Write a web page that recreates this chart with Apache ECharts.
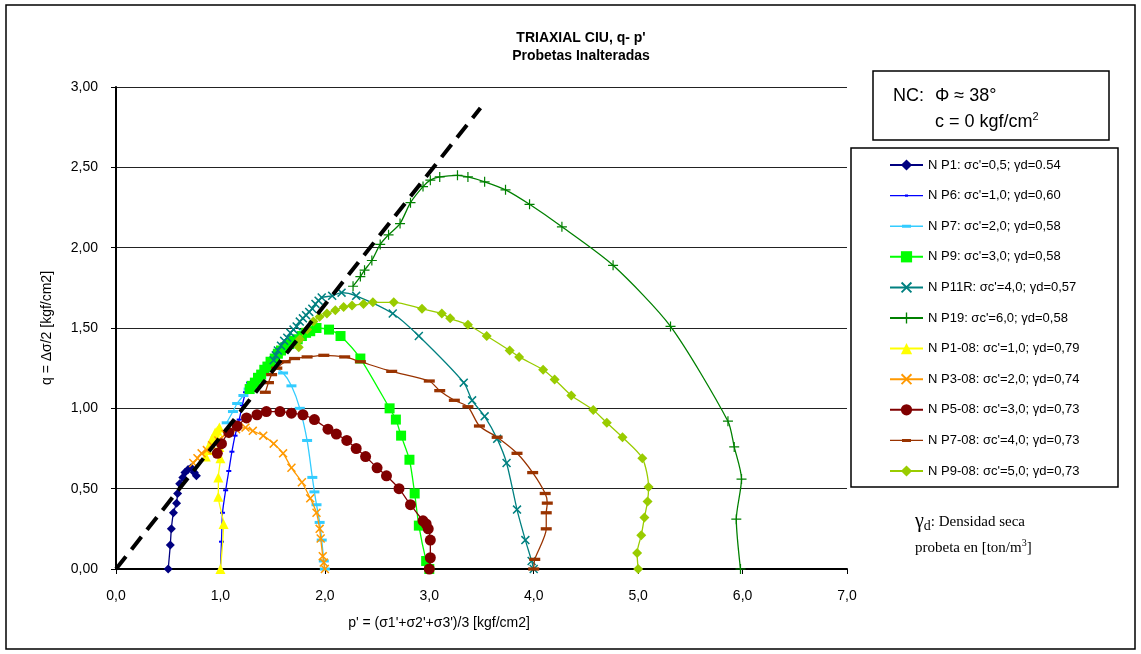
<!DOCTYPE html>
<html>
<head>
<meta charset="utf-8">
<script src="https://cdn.jsdelivr.net/npm/echarts@6/dist/echarts.min.js"></script>
<style>
  html, body { margin: 0; padding: 0; background: #fff; }
  #chart { width: 1141px; height: 654px; }
</style>
</head>
<body>
<div id="chart"></div>
<script>
// Stress paths q - p' (CIU triaxial), points as [p', q] in kgf/cm2
const np1 = [[0.50,0],[0.52,0.15],[0.53,0.25],[0.55,0.35],[0.58,0.41],[0.59,0.47],[0.61,0.53],[0.64,0.57],[0.66,0.60],[0.69,0.62],[0.72,0.63],[0.75,0.60],[0.77,0.58]];
const np6 = [[1.00,0],[1.01,0.17],[1.02,0.35],[1.05,0.49],[1.08,0.61],[1.11,0.73],[1.14,0.83],[1.18,0.93],[1.21,1.02],[1.24,1.10],[1.27,1.16]];
const np7 = [[2.00,0],[1.99,0.05],[1.97,0.18],[1.95,0.29],[1.92,0.40],[1.90,0.48],[1.88,0.57],[1.83,0.80],[1.76,1.00],[1.68,1.14],[1.60,1.22],[1.52,1.25],[1.42,1.23],[1.33,1.17],[1.27,1.12],[1.22,1.08],[1.16,1.03],[1.12,0.98],[1.06,0.91]];
const np9 = [[3.00,0],[2.97,0.05],[2.90,0.27],[2.86,0.47],[2.81,0.68],[2.73,0.83],[2.68,0.93],[2.62,1.00],[2.34,1.31],[2.15,1.45],[2.04,1.49],[1.92,1.50],[1.86,1.48],[1.82,1.47],[1.78,1.45],[1.74,1.43],[1.70,1.42],[1.66,1.40],[1.62,1.38],[1.58,1.36],[1.55,1.34],[1.52,1.31],[1.48,1.29],[1.45,1.26],[1.42,1.24],[1.39,1.21],[1.36,1.19],[1.33,1.16],[1.30,1.14],[1.28,1.12]];
const np11r = [[4.00,0],[3.98,0.05],[3.92,0.18],[3.84,0.37],[3.74,0.66],[3.65,0.81],[3.53,0.95],[3.41,1.05],[3.33,1.16],[2.90,1.45],[2.65,1.59],[2.30,1.70],[2.16,1.72],[2.07,1.70],[1.97,1.69],[1.94,1.67],[1.91,1.65],[1.88,1.62],[1.85,1.60],[1.82,1.58],[1.79,1.56],[1.76,1.54],[1.73,1.51],[1.70,1.49],[1.67,1.47],[1.64,1.44],[1.61,1.42],[1.58,1.39],[1.55,1.36],[1.53,1.33],[1.51,1.30]];
const np19 = [[5.98,0],[5.94,0.31],[5.99,0.56],[5.92,0.76],[5.86,0.92],[5.31,1.51],[4.76,1.89],[4.27,2.13],[3.96,2.27],[3.73,2.36],[3.53,2.41],[3.37,2.44],[3.27,2.45],[3.10,2.44],[3.01,2.42],[2.94,2.38],[2.82,2.28],[2.72,2.15],[2.61,2.08],[2.53,2.02],[2.45,1.92],[2.38,1.86],[2.34,1.82],[2.27,1.76]];
const np1_08 = [[1.00,0],[1.03,0.28],[0.98,0.45],[0.98,0.57],[1.00,0.69],[0.99,0.76],[0.97,0.80],[0.95,0.83],[0.97,0.86],[0.99,0.88],[0.95,0.85],[0.92,0.81],[0.90,0.78],[0.88,0.74],[0.86,0.70]];
const np3_08 = [[2.00,0],[1.99,0.04],[1.98,0.08],[1.96,0.19],[1.95,0.25],[1.92,0.35],[1.86,0.44],[1.78,0.54],[1.68,0.63],[1.60,0.72],[1.51,0.78],[1.41,0.83],[1.31,0.86],[1.24,0.88],[1.15,0.87],[1.05,0.84],[0.98,0.80],[0.92,0.77],[0.87,0.74],[0.82,0.72],[0.78,0.69],[0.74,0.66]];
const np5_08 = [[3.00,0],[3.01,0.07],[3.01,0.18],[2.99,0.25],[2.97,0.28],[2.94,0.30],[2.82,0.40],[2.71,0.50],[2.59,0.58],[2.50,0.63],[2.39,0.70],[2.30,0.75],[2.21,0.80],[2.11,0.84],[2.03,0.87],[1.90,0.93],[1.79,0.96],[1.68,0.97],[1.57,0.98],[1.44,0.98],[1.35,0.96],[1.25,0.94],[1.16,0.89],[1.08,0.85],[1.01,0.78],[0.97,0.72]];
const np7_08 = [[4.00,0],[4.01,0.06],[4.12,0.25],[4.12,0.35],[4.13,0.41],[4.11,0.47],[3.99,0.60],[3.84,0.72],[3.65,0.82],[3.48,0.89],[3.37,1.01],[3.24,1.05],[3.10,1.11],[3.00,1.17],[2.64,1.23],[2.34,1.29],[2.19,1.32],[1.99,1.33],[1.83,1.32],[1.71,1.31],[1.62,1.29],[1.54,1.25],[1.49,1.21],[1.46,1.16],[1.43,1.10]];
const np9_08 = [[5.00,0],[4.99,0.10],[5.03,0.21],[5.06,0.32],[5.09,0.42],[5.10,0.51],[5.04,0.69],[4.85,0.82],[4.70,0.91],[4.57,0.99],[4.36,1.08],[4.20,1.18],[4.09,1.24],[3.86,1.32],[3.77,1.36],[3.55,1.45],[3.37,1.52],[3.20,1.56],[3.12,1.59],[2.93,1.62],[2.66,1.66],[2.46,1.66],[2.37,1.65],[2.26,1.64],[2.18,1.63],[2.10,1.61],[2.02,1.59],[1.95,1.57],[1.89,1.54],[1.83,1.49],[1.76,1.43],[1.75,1.38]];

// NC failure envelope (c = 0)
const envelope = [[0,0],[3.49,2.87]];

const seriesNames = [
  "N P1: σc'=0,5; γd=0.54",
  "N P6: σc'=1,0; γd=0,60",
  "N P7: σc'=2,0; γd=0,58",
  "N P9: σc'=3,0; γd=0,58",
  "N P11R: σc'=4,0; γd=0,57",
  "N P19: σc'=6,0; γd=0,58",
  "N P1-08: σc'=1,0; γd=0,79",
  "N P3-08: σc'=2,0; γd=0,74",
  "N P5-08: σc'=3,0; γd=0,73",
  "N P7-08: σc'=4,0; γd=0,73",
  "N P9-08: σc'=5,0; γd=0,73"
];
const seriesData = [np1, np6, np7, np9, np11r, np19, np1_08, np3_08, np5_08, np7_08, np9_08];

// marker shapes
const X_PATH = 'path://M0,1.2L1.2,0L5,3.8L8.8,0L10,1.2L6.2,5L10,8.8L8.8,10L5,6.2L1.2,10L0,8.8L3.8,5Z';
const PLUS_PATH = 'path://M4.4,0H5.6V4.4H10V5.6H5.6V10H4.4V5.6H0V4.4H4.4Z';
const DASH_PATH = 'path://M0,0H10V3H0Z';
const DOT_PATH = 'path://M0,0H10V4H0Z';

// legend icons (33 x 14 box): line through a dash marker
const LEGEND_DASH = 'path://M0,0L0.01,0L0,0.01ZM33,14L32.99,14L33,13.99ZM0,6.3H33V7.7H0ZM12,5.5H21V8.5H12Z';
const LEGEND_DOT = 'path://M0,0L0.01,0L0,0.01ZM33,14L32.99,14L33,13.99ZM0,6.4H33V7.6H0ZM15,5.8H18V8.2H15Z';

const styles = [
  { color: '#000080', symbol: 'diamond', size: 9 },
  { color: '#0000FF', symbol: DOT_PATH, size: 5, legendIcon: LEGEND_DOT },
  { color: '#33CCFF', symbol: DASH_PATH, size: 10, legendIcon: LEGEND_DASH },
  { color: '#00FF00', symbol: 'rect', size: 10 },
  { color: '#008080', symbol: X_PATH, size: 9 },
  { color: '#008000', symbol: PLUS_PATH, size: 10 },
  { color: '#FFFF00', symbol: 'triangle', size: 10 },
  { color: '#FF9900', symbol: X_PATH, size: 9 },
  { color: '#800000', symbol: 'circle', size: 11 },
  { color: '#993300', symbol: DASH_PATH, size: 11, legendIcon: LEGEND_DASH },
  { color: '#99CC00', symbol: 'diamond', size: 10 }
];

const FONT = '"Liberation Sans", Arial, sans-serif';
const SERIF = '"Liberation Serif", "Times New Roman", serif';
const fmt = (v, d) => v.toFixed(d).replace('.', ',');

const series = seriesData.map((d, i) => ({
  name: seriesNames[i],
  type: 'line',
  data: d,
  smooth: 0.25,
  symbol: styles[i].symbol,
  symbolSize: styles[i].size,
  symbolKeepAspect: true,
  showSymbol: true,
  color: styles[i].color,
  lineStyle: { color: styles[i].color, width: 1.3 },
  itemStyle: { color: styles[i].color },
  z: 2 + i
}));

series.push({
  name: 'envelope',
  type: 'line',
  data: envelope,
  symbol: 'none',
  lineStyle: { color: '#000', width: 4, type: [16, 9] },
  z: 20
});

const legendData = seriesNames.map((n, i) => styles[i].legendIcon ? { name: n, icon: styles[i].legendIcon } : { name: n });

const chart = echarts.init(document.getElementById('chart'), null, { renderer: 'canvas' });
chart.setOption({
  animation: false,
  backgroundColor: '#fff',
  grid: { left: 116, right: 294, top: 87, bottom: 85, containLabel: false },
  xAxis: {
    type: 'value', min: 0, max: 7, interval: 1,
    axisLine: { show: true, onZero: false, lineStyle: { color: '#000', width: 2 } },
    axisTick: { show: true, length: 5, lineStyle: { color: '#000', width: 1 } },
    axisLabel: { margin: 20, fontSize: 14, color: '#000', fontFamily: FONT, formatter: v => fmt(v, 1) },
    splitLine: { show: false }
  },
  yAxis: {
    type: 'value', min: 0, max: 3, interval: 0.5,
    axisLine: { show: true, onZero: false, lineStyle: { color: '#000', width: 2 } },
    axisTick: { show: true, length: 5, lineStyle: { color: '#000', width: 1 } },
    axisLabel: { margin: 18, fontSize: 14, color: '#000', fontFamily: FONT, formatter: v => fmt(v, 2) },
    splitLine: { show: true, lineStyle: { color: '#222', width: 1.2 } }
  },
  legend: {
    orient: 'vertical',
    left: 889, top: 158,
    padding: 0,
    itemWidth: 33, itemHeight: 14, itemGap: 16.6,
    data: legendData,
    textStyle: { fontSize: 13, color: '#000', fontFamily: FONT, lineHeight: 14 },
    selectedMode: false
  },
  series: series,
  graphic: [
    { type: 'rect', shape: { x: 6, y: 5, width: 1129, height: 644 }, style: { fill: 'none', stroke: '#000', lineWidth: 1.5 }, z: 0, silent: true },
    { type: 'rect', shape: { x: 873, y: 71, width: 236, height: 69 }, style: { fill: '#fff', stroke: '#000', lineWidth: 1.5 }, z: 30 },
    { type: 'rect', shape: { x: 851, y: 148, width: 267, height: 339 }, style: { fill: 'none', stroke: '#000', lineWidth: 1.5 }, z: 30 },
    { type: 'text', x: 581, y: 38, style: { text: "TRIAXIAL CIU, q- p'", font: 'bold 14px ' + FONT, fill: '#000', textAlign: 'center', textVerticalAlign: 'middle' }, z: 30 },
    { type: 'text', x: 581, y: 56, style: { text: 'Probetas Inalteradas', font: 'bold 14px ' + FONT, fill: '#000', textAlign: 'center', textVerticalAlign: 'middle' }, z: 30 },
    { type: 'text', x: 893, y: 96, style: { text: 'NC:', font: '18px ' + FONT, fill: '#000', textAlign: 'left', textVerticalAlign: 'middle' }, z: 31 },
    { type: 'text', x: 935, y: 96, style: { text: 'Φ ≈ 38°', font: '18px ' + FONT, fill: '#000', textAlign: 'left', textVerticalAlign: 'middle' }, z: 31 },
    { type: 'text', x: 935, y: 121, style: {
        text: '{a|c = 0 kgf/cm}{s|2}',
        rich: { a: { fontSize: 18, fontFamily: FONT, fill: '#000', verticalAlign: 'bottom' }, s: { fontSize: 11, fontFamily: FONT, fill: '#000', padding: [0, 0, 9, 0], verticalAlign: 'bottom' } },
        textAlign: 'left', textVerticalAlign: 'middle' }, z: 31 },
    { type: 'text', x: 915, y: 522, style: {
        text: '{g|γ}{d|d}{t|: Densidad seca}',
        rich: { g: { fontSize: 20, fontFamily: SERIF, fill: '#000' }, d: { fontSize: 14, fontFamily: SERIF, fill: '#000', padding: [8, 0, 0, 0] }, t: { fontSize: 15, fontFamily: SERIF, fill: '#000' } },
        textAlign: 'left', textVerticalAlign: 'middle' }, z: 31 },
    { type: 'text', x: 915, y: 547, style: {
        text: '{t|probeta en [ton/m}{s|3}{t|]}',
        rich: { t: { fontSize: 15, fontFamily: SERIF, fill: '#000', verticalAlign: 'bottom' }, s: { fontSize: 10, fontFamily: SERIF, fill: '#000', padding: [0, 0, 7, 0], verticalAlign: 'bottom' } },
        textAlign: 'left', textVerticalAlign: 'middle' }, z: 31 },
    { type: 'text', x: 439, y: 623, style: { text: "p' = (σ1'+σ2'+σ3')/3 [kgf/cm2]", font: '14px ' + FONT, fill: '#000', textAlign: 'center', textVerticalAlign: 'middle' }, z: 30 },
    { type: 'text', x: 47, y: 328, rotation: Math.PI / 2, style: { text: 'q = Δσ/2 [kgf/cm2]', font: '14px ' + FONT, fill: '#000', textAlign: 'center', textVerticalAlign: 'middle' }, z: 30 }
  ]
});
</script>
</body>
</html>
